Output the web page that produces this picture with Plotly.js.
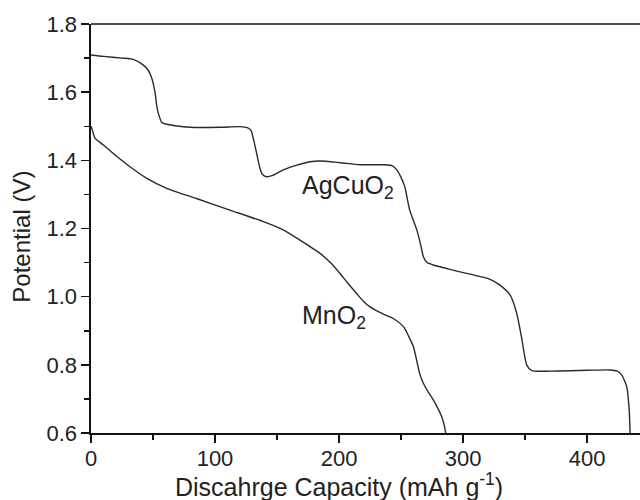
<!DOCTYPE html>
<html>
<head>
<meta charset="utf-8">
<script src="https://cdn.plot.ly/plotly-3.0.1.min.js"></script>
<style>html,body{margin:0;padding:0;background:#fff;}</style>
</head>
<body>
<div id="chart" style="width:640px;height:500px;"></div>
<script>
// AgCuO2 discharge curve
const agX = [0, 10, 25, 34, 42, 46, 49, 51.6, 53, 54.3, 57, 62, 80, 104, 120, 126, 129, 131, 133.6, 136, 138, 141.5, 146, 155, 166, 176.6, 185, 201, 217, 236, 243, 247, 250, 253, 257, 262.7, 266, 268, 271, 276, 289.5, 305.6, 321.8, 329.8, 337.9, 343.3, 347.3, 351.4, 355.4, 375.5, 400, 418.5, 424, 428, 432, 434, 434.7];
const agY = [1.709, 1.705, 1.700, 1.696, 1.680, 1.665, 1.641, 1.600, 1.560, 1.538, 1.512, 1.505, 1.497, 1.497, 1.499, 1.496, 1.488, 1.462, 1.420, 1.380, 1.360, 1.352, 1.355, 1.372, 1.386, 1.396, 1.398, 1.393, 1.387, 1.387, 1.384, 1.370, 1.350, 1.323, 1.254, 1.196, 1.150, 1.117, 1.100, 1.093, 1.080, 1.066, 1.051, 1.034, 1.005, 0.951, 0.878, 0.799, 0.783, 0.782, 0.784, 0.785, 0.782, 0.770, 0.736, 0.667, 0.600];

// MnO2 discharge curve
const mnX = [0, 1, 3.2, 10, 18, 31.5, 45, 61, 85, 112, 139, 155, 168.5, 184.7, 193, 200.8, 207, 214, 220, 225, 235, 243.8, 252, 256, 260, 265, 268, 272, 276, 280, 282.8, 285, 286];
const mnY = [1.50, 1.49, 1.465, 1.445, 1.42, 1.381, 1.347, 1.318, 1.288, 1.254, 1.22, 1.196, 1.166, 1.127, 1.10, 1.068, 1.04, 1.01, 0.985, 0.97, 0.95, 0.936, 0.912, 0.885, 0.853, 0.775, 0.746, 0.72, 0.697, 0.67, 0.648, 0.62, 0.600];

const xTickVals = [0, 100, 200, 300, 400];
const yTickVals = [0.6, 0.8, 1.0, 1.2, 1.4, 1.6, 1.8];
const yTickText = ["0.6", "0.8", "1.0", "1.2", "1.4", "1.6", "1.8"];

const FONT = "Liberation Sans, Arial, sans-serif";
const lineStyle = {color: "#2a2a2a", width: 1.4, shape: "spline", smoothing: 0.6};

const traces = [
  {x: agX, y: agY, type: "scatter", mode: "lines", line: lineStyle, name: "AgCuO2", hoverinfo: "skip"},
  {x: mnX, y: mnY, type: "scatter", mode: "lines", line: lineStyle, name: "MnO2", hoverinfo: "skip"}
];

const layout = {
  width: 640, height: 500,
  margin: {l: 91, r: 0, t: 24, b: 67, pad: 0},
  paper_bgcolor: "#fff", plot_bgcolor: "#fff",
  showlegend: false,
  font: {family: FONT, color: "#222", size: 22},
  xaxis: {
    range: [0, 442.7], showgrid: false, zeroline: false,
    showline: true, linecolor: "#111", linewidth: 1.6,
    ticks: "outside", ticklen: 8, tickwidth: 1.5, tickcolor: "#111",
    tickmode: "array", tickvals: xTickVals,
    ticklabelstandoff: -3,
    tickfont: {family: FONT, size: 22, color: "#222"},
    minor: {dtick: 50, ticks: "outside", ticklen: 5, tickwidth: 1.5, tickcolor: "#111", showgrid: false}
  },
  yaxis: {
    range: [0.6, 1.8], showgrid: false, zeroline: false,
    showline: true, linecolor: "#111", linewidth: 1.6,
    ticks: "outside", ticklen: 8, tickwidth: 1.5, tickcolor: "#111",
    tickmode: "array", tickvals: yTickVals, ticktext: yTickText,
    tickfont: {family: FONT, size: 22, color: "#222"},
    minor: {dtick: 0.1, ticks: "outside", ticklen: 5, tickwidth: 1.5, tickcolor: "#111", showgrid: false}
  },
  shapes: [
    {type: "line", xref: "paper", yref: "paper", x0: 0, x1: 1, y0: 1, y1: 1, line: {color: "#111", width: 1.6}}
  ],
  annotations: [
    {text: "AgCuO<sub>2</sub>", x: 168.5, y: 1.322, xref: "x", yref: "y", xanchor: "left", yanchor: "middle", showarrow: false, font: {family: FONT, size: 25, color: "#222"}},
    {text: "MnO<sub>2</sub>", x: 168.5, y: 0.94, xref: "x", yref: "y", xanchor: "left", yanchor: "middle", showarrow: false, font: {family: FONT, size: 25, color: "#222"}},
    {text: "Discahrge Capacity (mAh g<sup>-1</sup>)", x: 0.4517, y: -0.127, xref: "paper", yref: "paper", xanchor: "center", yanchor: "middle", showarrow: false, font: {family: FONT, size: 25, color: "#222"}},
    {text: "Potential (V)", x: -0.1257, y: 0.48, xref: "paper", yref: "paper", xanchor: "center", yanchor: "middle", textangle: -90, showarrow: false, font: {family: FONT, size: 24, color: "#222"}}
  ]
};

Plotly.newPlot("chart", traces, layout, {displayModeBar: false, staticPlot: true});
</script>
</body>
</html>
